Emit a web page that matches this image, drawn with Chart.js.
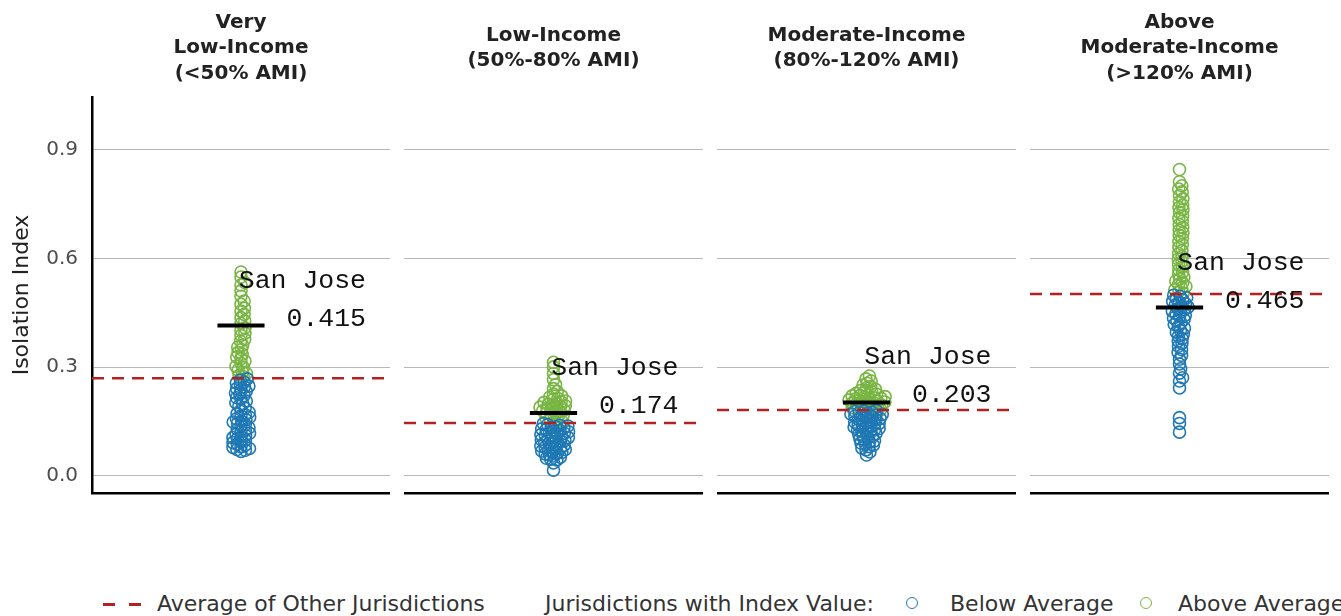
<!DOCTYPE html>
<html>
<head>
<meta charset="utf-8">
<script src="https://cdn.jsdelivr.net/npm/chart.js@4.4.0/dist/chart.umd.min.js"></script>
<style>
  body { margin: 0; background: #fff; width: 1341px; height: 616px; position: relative; overflow: hidden; font-family: "DejaVu Sans", sans-serif; }
  .panel { position: absolute; top: 0; height: 523px; }
  .lg { position: absolute; top: 592px; height: 24px; line-height: 24px; font-size: 22px; color: #333; white-space: nowrap; }
  .dash { position: absolute; top: 603px; left: 103px; width: 38px; height: 3px;
          background: repeating-linear-gradient(to right, #b22222 0 12px, transparent 12px 26px); }
  .ring { position: absolute; top: 597px; width: 10px; height: 10px; border-radius: 50%; border: 1.6px solid; }
</style>
</head>
<body>
<div class="panel" style="left:0;width:390px"><canvas id="c0"></canvas></div>
<div class="panel" style="left:404px;width:299px"><canvas id="c1"></canvas></div>
<div class="panel" style="left:717px;width:299px"><canvas id="c2"></canvas></div>
<div class="panel" style="left:1030px;width:299px"><canvas id="c3"></canvas></div>

<div class="dash"></div>
<div class="lg" style="left:157px">Average of Other Jurisdictions</div>
<div class="lg" style="left:545px">Jurisdictions with Index Value:</div>
<div class="ring" style="left:906px;border-color:#1f78b4"></div>
<div class="lg" style="left:950px">Below Average</div>
<div class="ring" style="left:1140px;border-color:#78b543"></div>
<div class="lg" style="left:1178px">Above Average</div>

<script>
const panelTitles = [
  ['Very', 'Low-Income', '(<50% AMI)'],
  ['Low-Income', '(50%-80% AMI)'],
  ['Moderate-Income', '(80%-120% AMI)'],
  ['Above', 'Moderate-Income', '(>120% AMI)']
];
const yTicks = [0, 0.3, 0.6, 0.9];
const otherAverage = [0.270, 0.146, 0.182, 0.502];
const sanJoseValue = [0.415, 0.174, 0.203, 0.465];

// index values of the other jurisdictions
const vliValues = [
  0.563, 0.549, 0.534, 0.527, 0.511, 0.496, 0.483, 0.474, 0.463, 0.455, 0.446, 0.437,
  0.428, 0.421, 0.409, 0.403, 0.394, 0.388, 0.377, 0.372, 0.361, 0.356, 0.349, 0.341,
  0.336, 0.328, 0.324, 0.317, 0.311, 0.303, 0.299, 0.292, 0.287, 0.283, 0.278, 0.274,
  0.268, 0.265, 0.259, 0.257, 0.252, 0.248, 0.246, 0.241, 0.238, 0.233, 0.229, 0.226,
  0.222, 0.216, 0.213, 0.207, 0.202, 0.199, 0.193, 0.187, 0.182, 0.176, 0.172, 0.169,
  0.166, 0.162, 0.158, 0.155, 0.151, 0.149, 0.146, 0.142, 0.138, 0.133, 0.129, 0.126,
  0.122, 0.118, 0.115, 0.112, 0.109, 0.106, 0.103, 0.099, 0.096, 0.092, 0.088, 0.085,
  0.081, 0.079, 0.076, 0.073, 0.071, 0.068
];
const liValues = [
  0.314, 0.301, 0.283, 0.266, 0.252, 0.241, 0.233, 0.226, 0.221, 0.218, 0.214, 0.211,
  0.207, 0.205, 0.203, 0.201, 0.198, 0.196, 0.194, 0.192, 0.190, 0.188, 0.186, 0.184,
  0.182, 0.180, 0.178, 0.176, 0.173, 0.171, 0.168, 0.166, 0.163, 0.160, 0.157, 0.154,
  0.151, 0.148, 0.144, 0.142, 0.140, 0.138, 0.136, 0.134, 0.132, 0.130, 0.128, 0.126,
  0.124, 0.122, 0.120, 0.118, 0.116, 0.114, 0.112, 0.110, 0.108, 0.106, 0.104, 0.102,
  0.100, 0.098, 0.096, 0.094, 0.092, 0.090, 0.087, 0.085, 0.083, 0.081, 0.079, 0.077,
  0.075, 0.073, 0.071, 0.069, 0.067, 0.065, 0.063, 0.061, 0.058, 0.055, 0.052, 0.049,
  0.046, 0.044, 0.036, 0.016
];
const modValues = [
  0.276, 0.268, 0.262, 0.256, 0.251, 0.247, 0.243, 0.239, 0.236, 0.233, 0.231, 0.228,
  0.226, 0.224, 0.222, 0.221, 0.219, 0.218, 0.216, 0.215, 0.213, 0.212, 0.210, 0.209,
  0.207, 0.206, 0.204, 0.203, 0.201, 0.200, 0.198, 0.197, 0.195, 0.193, 0.192, 0.190,
  0.188, 0.187, 0.185, 0.183, 0.181, 0.179, 0.178, 0.176, 0.175, 0.173, 0.171, 0.170,
  0.168, 0.166, 0.165, 0.163, 0.161, 0.159, 0.157, 0.155, 0.153, 0.151, 0.149, 0.147,
  0.145, 0.143, 0.141, 0.139, 0.137, 0.135, 0.133, 0.131, 0.129, 0.127, 0.124, 0.122,
  0.120, 0.117, 0.115, 0.112, 0.109, 0.106, 0.103, 0.100, 0.097, 0.094, 0.091, 0.088,
  0.085, 0.081, 0.077, 0.072, 0.066, 0.058
];
const amodValues = [
  0.846, 0.812, 0.801, 0.792, 0.784, 0.774, 0.765, 0.757, 0.748, 0.741, 0.735, 0.727,
  0.718, 0.711, 0.703, 0.694, 0.686, 0.678, 0.671, 0.664, 0.655, 0.647, 0.639, 0.631,
  0.622, 0.614, 0.606, 0.599, 0.592, 0.584, 0.577, 0.569, 0.562, 0.556, 0.549, 0.544,
  0.538, 0.533, 0.528, 0.523, 0.519, 0.514, 0.509, 0.505, 0.499, 0.496, 0.492, 0.489,
  0.486, 0.482, 0.479, 0.476, 0.472, 0.469, 0.466, 0.462, 0.459, 0.455, 0.452, 0.448,
  0.444, 0.440, 0.436, 0.432, 0.428, 0.423, 0.418, 0.413, 0.408, 0.402, 0.397, 0.391,
  0.386, 0.379, 0.373, 0.366, 0.358, 0.349, 0.341, 0.333, 0.322, 0.309, 0.296, 0.284,
  0.271, 0.262, 0.243, 0.161, 0.145, 0.121
];
const panelValues = [vliValues, liValues, modValues, amodValues];

const BLUE = '#1f78b4';
const GREEN = '#78b543';
const RED = '#b22222';
const BAR_HALF = 0.158;     // half width of the San Jose bar, in x units
const SWARM_GAP = 4.5;      // min distance between point centres, px

// simple beeswarm: each point goes to the smallest offset that keeps the gap
function swarmOffsets(pixY, d) {
  const order = pixY.map((y, i) => i).sort((a, b) => pixY[b] - pixY[a]);
  const placed = [];
  const out = new Array(pixY.length);
  for (const i of order) {
    const y = pixY[i];
    const near = placed.filter(p => Math.abs(p.y - y) < d);
    const cands = [0];
    near.forEach(p => {
      const dx = Math.sqrt(d * d - (p.y - y) * (p.y - y));
      cands.push(p.x + dx, p.x - dx);
    });
    cands.sort((a, b) => Math.abs(a) - Math.abs(b));
    let x = 0;
    for (const c of cands) {
      if (near.every(p => (p.x - c) ** 2 + (p.y - y) ** 2 >= d * d - 1e-6)) { x = c; break; }
    }
    placed.push({x, y});
    out[i] = x;
  }
  return out;
}

const sanJoseLabels = {
  id: 'sanJoseLabels',
  afterDatasetsDraw(chart, args, opts) {
    const {ctx, scales: {x, y}} = chart;
    const v = sanJoseValue[opts.panel];
    const px = x.getPixelForValue(0) + 125;
    const py = y.getPixelForValue(v);
    ctx.save();
    ctx.font = '26.5px "Liberation Mono", monospace';
    ctx.fillStyle = '#111';
    ctx.textAlign = 'right';
    ctx.textBaseline = 'middle';
    ctx.fillText('San Jose', px, py - 45);
    ctx.fillText(v.toFixed(3), px, py - 7);
    ctx.restore();
  }
};

function makePanel(i) {
  const first = i === 0;
  const extra = (3 - panelTitles[i].length) * 25.4 / 2;
  const pointStyle = color => ({
    data: [],
    borderColor: color,
    backgroundColor: 'rgba(0,0,0,0)',
    borderWidth: 1.6,
    pointRadius: 6,
    pointHoverRadius: 6
  });
  const chart = new Chart(document.getElementById('c' + i), {
    type: 'scatter',
    data: {
      datasets: [
        {
          type: 'line',
          label: 'Average of Other Jurisdictions',
          data: [{x: -1, y: otherAverage[i]}, {x: 1, y: otherAverage[i]}],
          borderColor: RED,
          borderWidth: 2.5,
          borderDash: [12, 8],
          pointRadius: 0
        },
        {
          type: 'line',
          label: 'San Jose',
          data: [{x: -BAR_HALF, y: sanJoseValue[i]}, {x: BAR_HALF, y: sanJoseValue[i]}],
          borderColor: '#000',
          borderWidth: 4,
          pointRadius: 0
        },
        Object.assign({label: 'Below Average'}, pointStyle(BLUE)),
        Object.assign({label: 'Above Average'}, pointStyle(GREEN))
      ]
    },
    options: {
      responsive: true,
      maintainAspectRatio: false,
      animation: false,
      layout: { padding: 0, autoPadding: false },
      scales: {
        x: {
          type: 'linear',
          min: -1,
          max: 1,
          ticks: { display: false },
          grid: { display: false, drawTicks: false },
          border: { display: true, color: '#000', width: 2.5 },
          afterFit: s => { s.height = 30; }
        },
        y: {
          min: -0.047,
          max: 1.046,
          afterBuildTicks: s => { s.ticks = yTicks.map(v => ({value: v})); },
          afterFit: s => { s.width = first ? 92 : 0; },
          ticks: {
            display: first,
            color: '#4d4d4d',
            padding: 14,
            font: { family: 'DejaVu Sans', size: 20 },
            callback: v => v.toFixed(1)
          },
          grid: { color: '#b8b8b8', lineWidth: 1, drawTicks: false },
          border: { display: first, color: '#000', width: 2.5 },
          title: {
            display: first,
            text: 'Isolation Index',
            color: '#222',
            font: { family: 'DejaVu Sans', size: 22 },
            padding: { top: 9, bottom: 0 }
          }
        }
      },
      plugins: {
        legend: { display: false },
        tooltip: { enabled: false },
        title: {
          display: true,
          fullSize: false,
          text: panelTitles[i],
          color: '#222',
          font: { family: 'DejaVu Sans', size: 20, weight: 'bold', lineHeight: 1.27 },
          padding: { top: 10 + extra, bottom: 10.8 + extra }
        },
        sanJoseLabels: { panel: i }
      }
    },
    plugins: [sanJoseLabels]
  });

  // place the points as a swarm around the panel centre
  const values = panelValues[i];
  const ys = values.map(v => chart.scales.y.getPixelForValue(v));
  const offs = swarmOffsets(ys, SWARM_GAP);
  const cx = chart.scales.x.getPixelForValue(0);
  const pts = values.map((v, k) => ({x: chart.scales.x.getValueForPixel(cx + offs[k]), y: v}));
  chart.data.datasets[2].data = pts.filter(p => p.y < otherAverage[i]);
  chart.data.datasets[3].data = pts.filter(p => p.y >= otherAverage[i]);
  chart.update('none');
  return chart;
}

const charts = [0, 1, 2, 3].map(makePanel);
</script>
</body>
</html>
